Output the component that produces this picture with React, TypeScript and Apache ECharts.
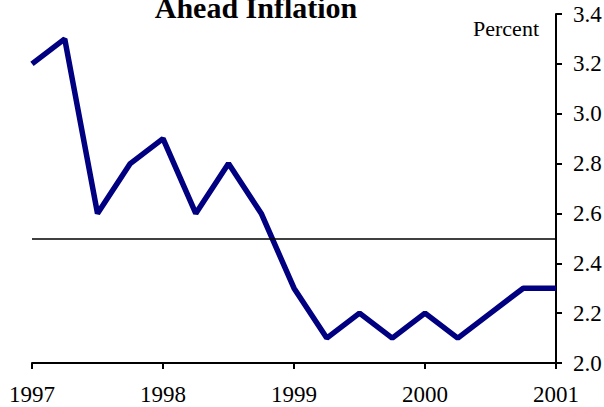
import React, { useEffect, useRef } from "react";
import * as echarts from "echarts";

const titleText = "Ahead Inflation";
const unitLabel = "Percent";
const periods = [
  1997, 1997.25, 1997.5, 1997.75,
  1998, 1998.25, 1998.5, 1998.75,
  1999, 1999.25, 1999.5, 1999.75,
  2000, 2000.25, 2000.5, 2000.75,
  2001,
];
const inflation = [
  3.2, 3.3, 2.6, 2.8,
  2.9, 2.6, 2.8, 2.6,
  2.3, 2.1, 2.2, 2.1,
  2.2, 2.1, 2.2, 2.3,
  2.3,
];
const referenceLevel = 2.5;
const xTicks = [1997, 1998, 1999, 2000, 2001];
const yMin = 2.0;
const yMax = 3.4;
const yStep = 0.2;

const FONT = "Liberation Serif";

export default function App() {
  const ref = useRef<HTMLDivElement>(null);
  useEffect(() => {
    document.body.style.margin = "0";
    if (!ref.current) return;
    const chart = echarts.init(ref.current, null, { renderer: "svg" });
    const seriesData = periods.map((p, i) => [p, inflation[i]]);
    chart.setOption({
      animation: false,
      backgroundColor: "#ffffff",
      textStyle: { fontFamily: FONT },
      grid: { left: 32, right: 48, top: 14, bottom: 44, containLabel: false, outerBoundsMode: "none" },
      graphic: [
        {
          type: "text",
          x: 256,
          y: 7,
          style: {
            text: titleText,
            fontFamily: FONT,
            fontSize: 30,
            fontWeight: "bold",
            fill: "#000",
            align: "center",
            verticalAlign: "middle",
          },
        },
        {
          type: "text",
          x: 539,
          y: 28,
          style: {
            text: unitLabel,
            fontFamily: FONT,
            fontSize: 22,
            fill: "#000",
            align: "right",
            verticalAlign: "middle",
          },
        },
      ],
      xAxis: {
        type: "value",
        min: xTicks[0],
        max: xTicks[xTicks.length - 1],
        interval: 1,
        splitLine: { show: false },
        axisLine: { show: true, lineStyle: { color: "#000", width: 2 } },
        axisTick: { show: true, length: 6, lineStyle: { color: "#000", width: 2 } },
        axisLabel: {
          show: true,
          margin: 20,
          color: "#000",
          fontFamily: FONT,
          fontSize: 23,
          showMinLabel: true,
          showMaxLabel: true,
          formatter: (v: number) => String(Math.round(v)),
        },
      },
      yAxis: {
        type: "value",
        position: "right",
        min: yMin,
        max: yMax,
        interval: yStep,
        splitLine: { show: false },
        axisLine: { show: true, lineStyle: { color: "#000", width: 2 } },
        axisTick: { show: true, length: 6, lineStyle: { color: "#000", width: 2 } },
        axisLabel: {
          show: true,
          margin: 17,
          color: "#000",
          fontFamily: FONT,
          fontSize: 23,
          formatter: (v: number) => v.toFixed(1),
        },
      },
      series: [
        {
          type: "line",
          data: seriesData,
          symbol: "none",
          lineStyle: { color: "#000080", width: 5.5 },
          markLine: {
            silent: true,
            symbol: "none",
            label: { show: false },
            lineStyle: { color: "#000", width: 1.5, type: "solid" },
            data: [[{ coord: [xTicks[0], referenceLevel] }, { coord: [xTicks[xTicks.length - 1], referenceLevel] }]],
          },
          z: 3,
        },
      ],
    });
    return () => chart.dispose();
  }, []);
  return <div ref={ref} style={{ width: 604, height: 407 }} />;
}
